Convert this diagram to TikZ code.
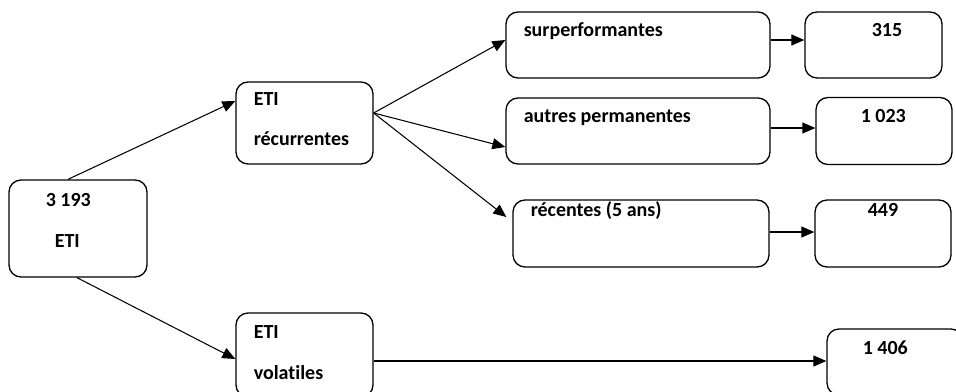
\documentclass[tikz,border=0pt]{standalone}
\usepackage{fontspec}
\setmainfont{Carlito}[Ligatures=NoCommon]
\usetikzlibrary{arrows.meta, positioning}

\begin{document}
\begin{tikzpicture}[x=1pt, y=-1pt, thick,
                    box/.style= {rectangle,
                      rounded corners=12pt,
                      draw,
                      line width=1.3pt,
                      inner sep=0pt},
                    txt/.style= {anchor=base west,
                      inner sep=0pt,
                      font=\fontsize{20}{24}\selectfont\bfseries},
                    link/.style= {line width=1.05pt,
                      -{Triangle[length=13pt, width=11pt]}}]

  \useasboundingbox (0,0) rectangle (956,391);

  % boxes
  \node[box, minimum width=138, minimum height=97] (root) at (78,228.5) {};
  \node[box, minimum width=137, minimum height=82] (rec) at (304.5,123) {};
  \node[box, minimum width=137, minimum height=84] (vol) at (304.5,355) {};
  \node[box, minimum width=264, minimum height=66] (sup) at (638,45) {};
  \node[box, minimum width=264, minimum height=66] (autres) at (638,131) {};
  \node[box, minimum width=256, minimum height=67] (recent) at (641,233.5) {};
  \node[box, minimum width=137, minimum height=66] (n315) at (873.5,45) {};
  \node[box, minimum width=136, minimum height=67] (n1023) at (884,131) {};
  \node[box, minimum width=136, minimum height=67] (n449) at (883,233.5) {};
  \node[box, minimum width=136, minimum height=66] (n1406) at (895,362) {};

  % texts
  \node[txt] (rootnum) at ([shift={(37,27)}]root.north west) {3 193};
  \node[txt] (rootlab) at ([shift={(46,68)}]root.north west) {ETI};
  \node[txt] (rec1) at ([shift={(18,24)}]rec.north west) {ETI};
  \node[txt] (rec2) at ([shift={(18,64)}]rec.north west) {récurrentes};
  \node[txt] (vol1) at ([shift={(18,26)}]vol.north west) {ETI};
  \node[txt] (vol2) at ([shift={(18,67)}]vol.north west) {volatiles};
  \node[txt] (suplab) at ([shift={(18,25)}]sup.north west) {surperformantes};
  \node[txt] (autlab) at ([shift={(18,25)}]autres.north west) {autres permanentes};
  \node[txt] (reclab) at ([shift={(18,17)}]recent.north west) {récentes (5 ans)};
  \node[txt] (v315) at ([shift={(67,25)}]n315.north west) {315};
  \node[txt] (v1023) at ([shift={(45,26)}]n1023.north west) {1 023};
  \node[txt] (v449) at ([shift={(53,17)}]n449.north west) {449};
  \node[txt] (v1406) at ([shift={(36,26)}]n1406.north west) {1 406};

  % arrows
  \draw[link] ([shift={(-10,0)}]root.north) -- ([shift={(0,-22)}]rec.west);
  \draw[link] ([shift={(-1,0)}]root.south) -- ([shift={(0,4)}]vol.west);
  \draw[link] ([shift={(0,-10)}]rec.east) -- ([shift={(0,-5)}]sup.west);
  \draw[link] ([shift={(0,-10)}]rec.east) -- ([shift={(0,16)}]autres.west);
  \draw[link] ([shift={(0,-10)}]rec.east) -- ([shift={(-6,-16.5)}]recent.west);
  \draw[link] ([shift={(0,-5)}]sup.east) -- ([shift={(0,-5)}]n315.west);
  \draw[link] ([shift={(0,-3)}]autres.east) -- ([shift={(0,-3)}]n1023.west);
  \draw[link] ([shift={(0,-1.5)}]recent.east) -- ([shift={(0,-1.5)}]n449.west);
  \draw[link] ([shift={(0,6)}]vol.east) -- ([shift={(0,-1)}]n1406.west);
\end{tikzpicture}
\end{document}
